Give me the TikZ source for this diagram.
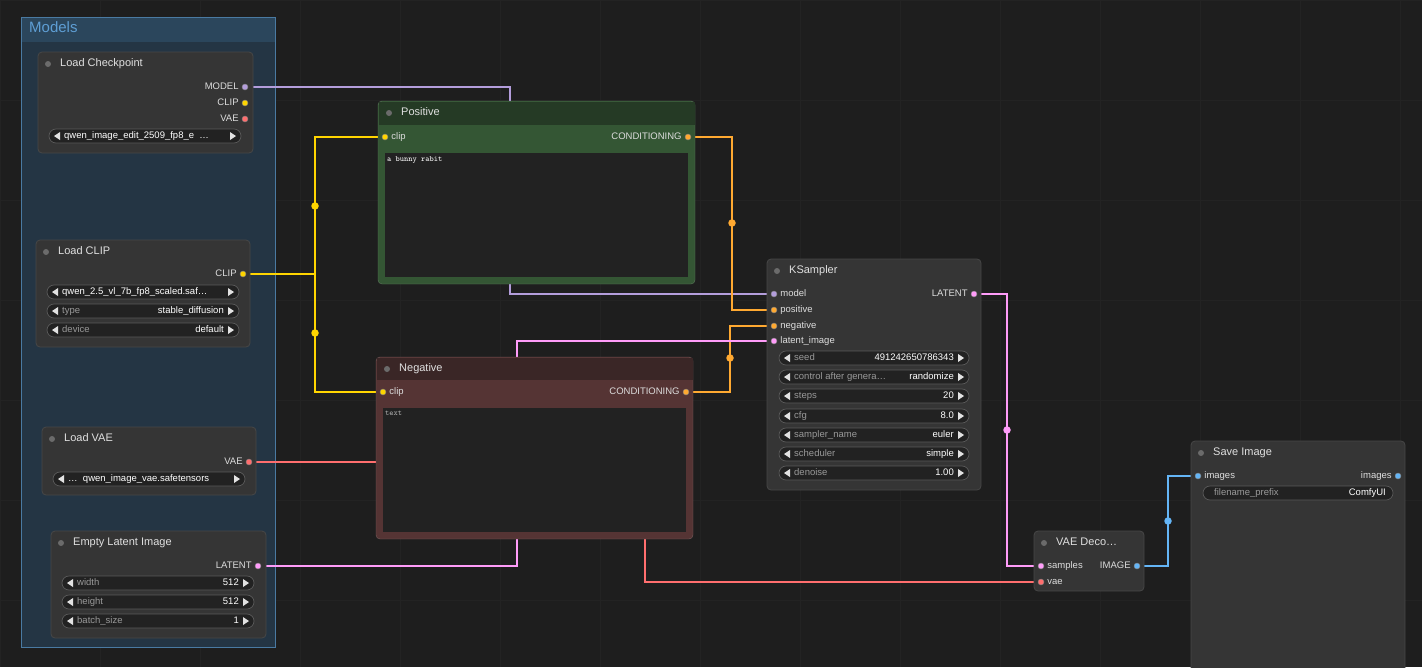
\documentclass[tikz,border=0pt]{standalone}
\usepackage{fontspec}
\setmainfont{Liberation Sans}
\usetikzlibrary{positioning,calc}
\definecolor{bg}{HTML}{1E1E1E}
\definecolor{grid}{HTML}{232323}
\definecolor{nodebg}{HTML}{353535}
\definecolor{nodeln}{HTML}{474747}
\definecolor{grpbg}{HTML}{243544}
\definecolor{grpti}{HTML}{2B465C}
\definecolor{grpln}{HTML}{4A7AA2}
\definecolor{grptx}{HTML}{5E9ED4}
\definecolor{posti}{HTML}{253A25}
\definecolor{posbg}{HTML}{345634}
\definecolor{negti}{HTML}{3A2626}
\definecolor{negbg}{HTML}{553434}
\definecolor{cmodel}{HTML}{B39DDB}
\definecolor{cclip}{HTML}{FFD500}
\definecolor{ccond}{HTML}{FFA931}
\definecolor{clat}{HTML}{FF9CF9}
\definecolor{cvae}{HTML}{FF6E6E}
\definecolor{cimg}{HTML}{64B5F6}
\definecolor{txt}{HTML}{DDDDDD}
\definecolor{sub}{HTML}{999999}
\definecolor{wgbg}{HTML}{222222}
\definecolor{wgln}{HTML}{5A5A5A}
\newcommand\cnode[6]{% name, x1, y1, x2, y2, title
  \draw[nd] (#2,#3) rectangle (#4,#5);
  \coordinate (#1) at (#2,#3);
  \fill[sub!70!black] (#2+10,#3+12) circle (3);
  \node[ttl,anchor=mid west] at (#2+22,#3+12) {#6};}
\newcommand\wdg[5]{% x1, y, x2, label, value
  \draw[wg] (#1,#2-7) rectangle (#3,#2+7);
  \fill[ar] (#1+5,#2) -- ++(6,-4) -- ++(0,8) -- cycle;
  \fill[ar] (#3-5,#2) -- ++(-6,-4) -- ++(0,8) -- cycle;
  \node[wl,anchor=mid west] at (#1+15,#2) {#4};
  \node[wv,anchor=mid east] at (#3-15,#2) {#5};}
\begin{document}
\begin{tikzpicture}[x=1pt,y=-1pt,
  nd/.style={fill=nodebg,draw=nodeln,rounded corners=4pt,line width=0.8pt},
  ttl/.style={text=txt!90,font=\fontsize{11}{12}\selectfont,inner sep=0pt},
  lbl/.style={text=txt,font=\fontsize{9.5}{10}\selectfont,inner sep=0pt,anchor=mid east},
  wg/.style={fill=wgbg,draw=wgln,rounded corners=7pt,line width=0.7pt},
  ar/.style={fill=txt!85},
  wl/.style={text=sub,font=\fontsize{9.5}{10}\selectfont,inner sep=0pt},
  wv/.style={text=white,font=\fontsize{9.5}{10}\selectfont,inner sep=0pt},
  sk/.style={circle,inner sep=0pt,minimum size=6pt,draw=black!50,line width=0.4pt},
  lk/.style={line width=1.8pt},
  jt/.style={circle,inner sep=0pt,minimum size=7.5pt}]
\fill[bg] (0,0) rectangle (1422,667);
\useasboundingbox (0,0) rectangle (1422,667);
\foreach \gx in {0,100,...,1400} \draw[grid] (\gx,0) -- (\gx,667);
\foreach \gy in {0,100,...,600} \draw[grid] (0,\gy) -- (1422,\gy);

% group
\draw[fill=grpbg,draw=grpln,line width=0.8pt] (21,17) rectangle (275,647);
\fill[grpti] (21.5,17.5) rectangle (274.5,42);
\node[text=grptx,font=\fontsize{15}{16}\selectfont,anchor=mid west,inner sep=0pt] (grpTitle) at (29,30) {Models};

% socket positions
\coordinate (ckModelP) at (245,87);
\coordinate (clClipP) at (243,274);
\coordinate (vaeP) at (249,462);
\coordinate (latP) at (258,566);

% links (behind nodes)
\node[sk,fill=cmodel] (ksModel) at (774,294) {};
\node[sk,fill=ccond] (ksPos) at (774,310) {};
\node[sk,fill=ccond] (ksNeg) at (774,326) {};
\node[sk,fill=clat] (ksLat) at (774,341) {};
\node[sk,fill=clat] (vdSamples) at (1041,566) {};
\node[sk,fill=cvae] (vdVae) at (1041,582) {};
\node[sk,fill=cimg] (siImages) at (1198,476) {};
\draw[lk,cmodel] (ckModelP) -- ++(265,0) |- (ksModel);
\draw[lk,cclip] (clClipP) -- ++(72,0) |- (385,137);
\draw[lk,cclip] (clClipP) -- ++(72,0) |- (383,392);
\draw[lk,ccond] (688,137) -- ++(44,0) |- (ksPos);
\draw[lk,ccond] (686,392) -- ++(44,0) |- (ksNeg);
\draw[lk,clat] (latP) -- ++(259,0) |- (ksLat);
\draw[lk,cvae] (vaeP) -- ++(396,0) |- (vdVae);
\draw[lk,clat] (974,294) -- ++(33,0) |- (vdSamples);
\draw[lk,cimg] (1137,566) -- ++(31,0) |- (siImages);
\node[jt,fill=cclip] (j1) at (315,206) {};
\node[jt,fill=cclip] (j2) at (315,333) {};
\node[jt,fill=ccond] (j3) at (732,223) {};
\node[jt,fill=ccond] (j4) at (730,358) {};
\node[jt,fill=clat] (j5) at (1007,430) {};
\node[jt,fill=cimg] (j6) at (1168,521) {};

% Load Checkpoint
\cnode{ckpt}{38}{52}{253}{153}{Load Checkpoint}
\node[sk,fill=cmodel,label={[lbl,xshift=-3pt]left:MODEL}] (ckModel) at (ckModelP) {};
\node[sk,fill=cclip,label={[lbl,xshift=-3pt]left:CLIP}] (ckClip) at (245,103) {};
\node[sk,fill=cvae,label={[lbl,xshift=-3pt]left:VAE}] (ckVae) at (245,119) {};
\wdg{49}{136}{241}{\color{white}qwen\_image\_edit\_2509\_fp8\_e \ \ldots}{}

% Load CLIP
\cnode{clip}{36}{240}{250}{347}{Load CLIP}
\node[sk,fill=cclip,label={[lbl,xshift=-3pt]left:CLIP}] (clClip) at (clClipP) {};
\wdg{47}{292}{239}{\color{white}qwen\_2.5\_vl\_7b\_fp8\_scaled.saf\ldots}{}
\wdg{47}{311}{239}{type}{stable\_diffusion}
\wdg{47}{330}{239}{device}{default}

% Load VAE
\cnode{vae}{42}{427}{256}{495}{Load VAE}
\node[sk,fill=cvae,label={[lbl,xshift=-3pt]left:VAE}] (lvVae) at (vaeP) {};
\wdg{53}{479}{245}{\color{white}\ldots\ \ qwen\_image\_vae.safetensors}{}

% Empty Latent Image
\cnode{eli}{51}{531}{266}{638}{Empty Latent Image}
\node[sk,fill=clat,label={[lbl,xshift=-3pt]left:LATENT}] (elLat) at (latP) {};
\wdg{62}{583}{254}{width}{512}
\wdg{62}{602}{254}{height}{512}
\wdg{62}{621}{254}{batch\_size}{1}

% Positive
\draw[fill=posbg,draw=posbg!80!white,rounded corners=4pt] (378,101) rectangle (695,284);
\fill[posti] (378.5,101.5) rectangle (694.5,125);
\fill[sub!70!black] (389,113) circle (3);
\node[ttl,anchor=mid west] (posTitle) at (401,113) {Positive};
\node[sk,fill=cclip,label={[lbl,anchor=mid west,xshift=3pt]right:clip}] (posClip) at (385,137) {};
\node[sk,fill=ccond,label={[lbl,xshift=-3pt]left:CONDITIONING}] (posCond) at (688,137) {};
\fill[wgbg] (385,153) rectangle (688,277);
\node[text=white,font=\ttfamily\fontsize{8}{9}\selectfont,anchor=north west,inner sep=0pt] (posText) at (387,156) {a bunny rabit};

% Negative
\draw[fill=negbg,draw=negbg!80!white,rounded corners=4pt] (376,357) rectangle (693,539);
\fill[negti] (376.5,357.5) rectangle (692.5,380);
\fill[sub!70!black] (387,369) circle (3);
\node[ttl,anchor=mid west] (negTitle) at (399,369) {Negative};
\node[sk,fill=cclip,label={[lbl,anchor=mid west,xshift=3pt]right:clip}] (negClip) at (383,392) {};
\node[sk,fill=ccond,label={[lbl,xshift=-3pt]left:CONDITIONING}] (negCond) at (686,392) {};
\fill[wgbg] (383,408) rectangle (686,532);
\node[text=sub!80,font=\ttfamily\fontsize{8}{9}\selectfont,anchor=north west,inner sep=0pt] (negText) at (385,411) {text};

% KSampler
\cnode{ks}{767}{259}{981}{490}{KSampler}
\node[sk,fill=cmodel,label={[lbl,anchor=mid west,xshift=3pt]right:model}] at (ksModel) {};
\node[sk,fill=ccond,label={[lbl,anchor=mid west,xshift=3pt]right:positive}] at (ksPos) {};
\node[sk,fill=ccond,label={[lbl,anchor=mid west,xshift=3pt]right:negative}] at (ksNeg) {};
\node[sk,fill=clat,label={[lbl,anchor=mid west,xshift=3pt]right:latent\_image}] at (ksLat) {};
\node[sk,fill=clat,label={[lbl,xshift=-3pt]left:LATENT}] (ksOut) at (974,294) {};
\wdg{779}{358}{969}{seed}{491242650786343}
\wdg{779}{377}{969}{control after genera\ldots}{randomize}
\wdg{779}{396}{969}{steps}{20}
\wdg{779}{416}{969}{cfg}{8.0}
\wdg{779}{435}{969}{sampler\_name}{euler}
\wdg{779}{454}{969}{scheduler}{simple}
\wdg{779}{473}{969}{denoise}{1.00}

% VAE Decode
\cnode{vd}{1034}{531}{1144}{591}{VAE Deco\ldots}
\node[sk,fill=clat,label={[lbl,anchor=mid west,xshift=3pt]right:samples}] at (vdSamples) {};
\node[sk,fill=cvae,label={[lbl,anchor=mid west,xshift=3pt]right:vae}] at (vdVae) {};
\node[sk,fill=cimg,label={[lbl,xshift=-3pt]left:IMAGE}] (vdImage) at (1137,566) {};

% Save Image
\cnode{si}{1191}{441}{1405}{680}{Save Image}
\node[sk,fill=cimg,label={[lbl,anchor=mid west,xshift=3pt]right:images}] at (siImages) {};
\node[sk,fill=cimg,label={[lbl,xshift=-3pt]left:images}] (siOut) at (1398,476) {};
\draw[wg] (1203,486) rectangle (1393,500);
\node[wl,anchor=mid west] (siPrefix) at (1214,493) {filename\_prefix};
\node[wv,anchor=mid east] (siValue) at (1386,493) {ComfyUI};
\end{tikzpicture}
\end{document}
